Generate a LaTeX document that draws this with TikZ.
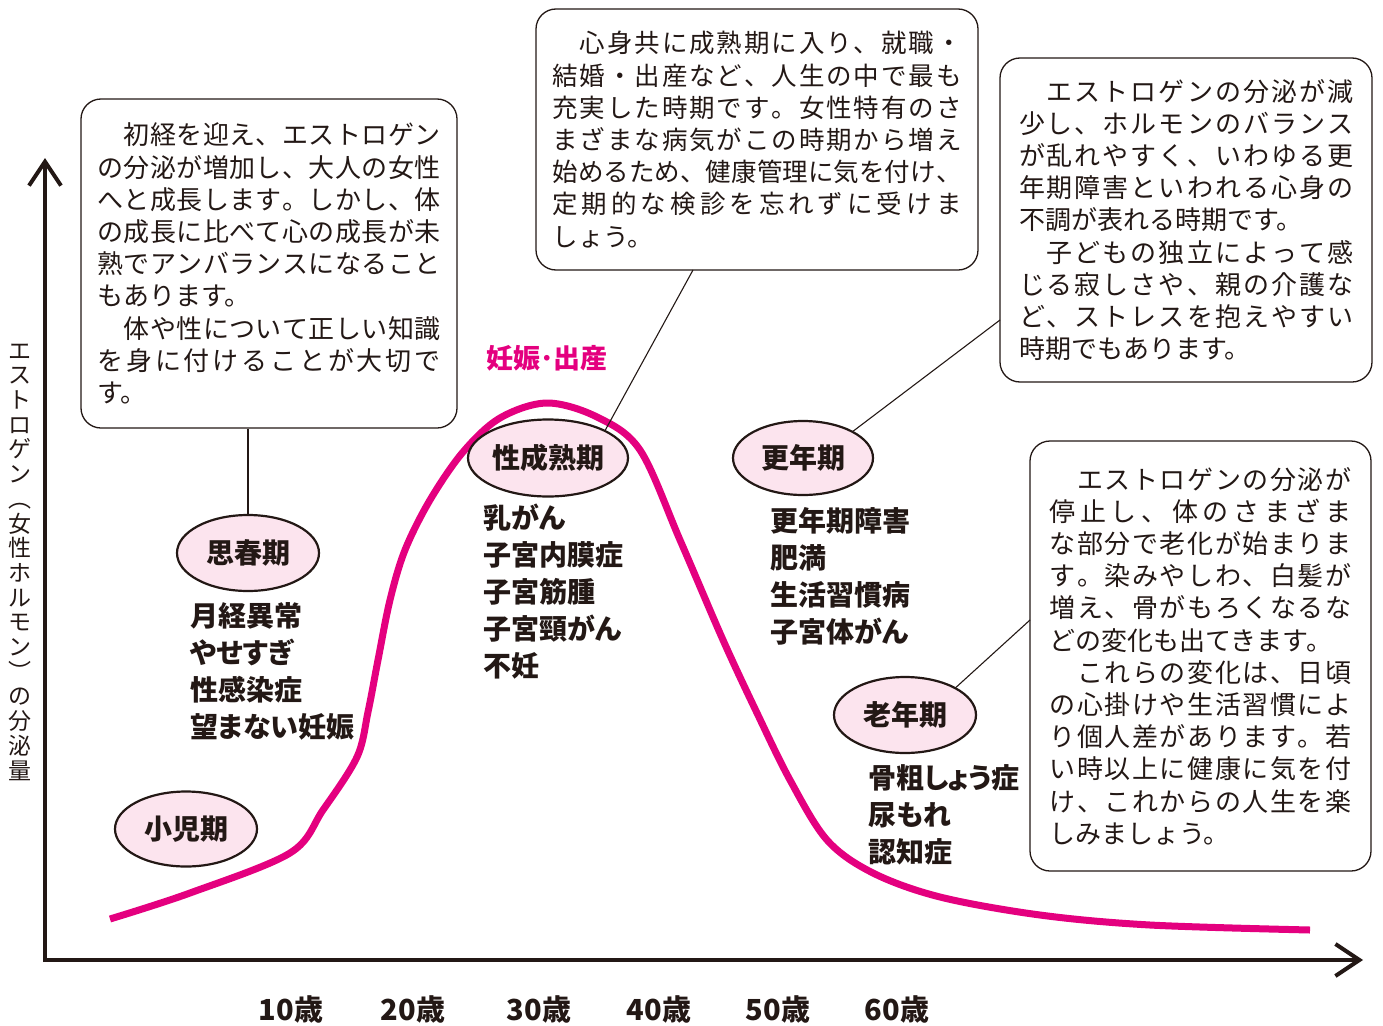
\documentclass[tikz,border=0pt]{standalone}
\usepackage{fontspec}
\setmainfont{Noto Sans CJK JP}
\newfontfamily\lblfont[RawFeature=+palt]{Noto Sans CJK JP}
\usetikzlibrary{shapes.geometric,arrows.meta}
\definecolor{ink}{HTML}{231815}
\definecolor{mag}{HTML}{E4007F}
\definecolor{pinkfill}{HTML}{FCE4EE}
\ExplSyntaxOn
\NewDocumentCommand\jl{mm}{\makebox[#1pt][s]{\tl_map_inline:nn{#2}{##1\hfil}\unskip}}
\ExplSyntaxOff
\begin{document}
\begin{tikzpicture}[x=1pt,y=-1pt,
  infobox/.style={draw=ink, line width=1.3pt, rounded corners=20pt, fill=white, text=ink, align=left, inner sep=0pt, font=\fontsize{26}{32.2}\selectfont},
  stage/.style={ellipse, draw=ink, line width=2.2pt, fill=pinkfill, inner sep=0pt, text=ink, font=\lblfont\fontsize{28}{28}\bfseries\selectfont},
  illlist/.style={anchor=north west, inner sep=0pt, align=left, text=ink, font=\lblfont\fontsize{28}{37}\bfseries\selectfont},
  agelbl/.style={text=ink, inner sep=0pt, font=\lblfont\fontsize{29}{29}\bfseries\selectfont},
  link/.style={draw=ink, line width=1.1pt},
  curve/.style={draw=mag, line width=7pt},
  axis/.style={draw=ink, line width=4pt}]
\useasboundingbox (0,0) rectangle (1383,1025);

% info boxes
\node[infobox, minimum width=376pt, minimum height=329pt] (box1) at (269,263.5) {%
\jl{343}{　初経を迎え、エストロゲン}\\
\jl{343}{の分泌が増加し、大人の女性}\\
\jl{343}{へと成長します。しかし、体}\\
\jl{343}{の成長に比べて心の成長が未}\\
\jl{343}{熟でアンバランスになること}\\
もあります。\\
\jl{343}{　体や性について正しい知識}\\
\jl{343}{を身に付けることが大切で}\\
す。};

\node[infobox, font=\fontsize{25.5}{32.2}\selectfont, minimum width=442pt, minimum height=261pt] (box2) at (757,139.5) {%
\jl{409}{　心身共に成熟期に入り、就職・}\\
\jl{409}{結婚・出産など、人生の中で最も}\\
\jl{409}{充実した時期です。女性特有のさ}\\
\jl{409}{まざまな病気がこの時期から増え}\\
\jl{409}{始めるため、健康管理に気を付け、}\\
\jl{409}{定期的な検診を忘れずに受けま}\\
しょう。};

\node[infobox, minimum width=372pt, minimum height=324pt] (box3) at (1186,220) {%
\jl{334}{　エストロゲンの分泌が減}\\
\jl{334}{少し、ホルモンのバランス}\\
\jl{334}{が乱れやすく、いわゆる更}\\
\jl{334}{年期障害といわれる心身の}\\
不調が表れる時期です。\\
\jl{334}{　子どもの独立によって感}\\
\jl{334}{じる寂しさや、親の介護な}\\
\jl{334}{ど、ストレスを抱えやすい}\\
時期でもあります。};

\node[infobox, minimum width=341pt, minimum height=430pt] (box4) at (1200.5,656) {%
\jl{302}{　エストロゲンの分泌が}\\
\jl{302}{停止し、体のさまざま}\\
\jl{302}{な部分で老化が始まりま}\\
\jl{302}{す。染みやしわ、白髪が}\\
\jl{302}{増え、骨がもろくなるな}\\
どの変化も出てきます。\\
\jl{302}{　これらの変化は、日頃}\\
\jl{302}{の心掛けや生活習慣によ}\\
\jl{302}{り個人差があります。若}\\
\jl{302}{い時以上に健康に気を付}\\
\jl{302}{け、これからの人生を楽}\\
しみましょう。};

% axes
\coordinate (origin) at (45,960);
\coordinate (ytip) at (45,158);
\coordinate (xtip) at (1363,960);
\draw[axis, -{Straight Barb[length=24pt,width=32pt]}] (45,962) -- (ytip);
\draw[axis, -{Straight Barb[length=24pt,width=32pt]}] (43,960) -- (xtip);

% estrogen curve
\draw[curve] plot[smooth, tension=0.55] coordinates {(110,919) (190,893) (290,853) (323,810) (357,757) (368,712) (378,660) (390,600) (405,550) (430,500) (463,452) (500,418) (547,403) (597,417) (640,450) (680,540) (723,640) (757,713) (790,780) (827,840) (873,873) (940,897) (1040,915) (1150,925) (1310,930)};

% stage ellipses
\node[stage, minimum width=142pt, minimum height=76pt] (shishunki) at (248,553) {思春期};
\node[stage, minimum width=142pt, minimum height=75pt] (shoni) at (186,829) {小児期};
\node[stage, minimum width=160pt, minimum height=77pt] (seijuku) at (548,458) {性成熟期};
\node[stage, minimum width=140pt, minimum height=74pt] (konenki) at (803,458) {更年期};
\node[stage, minimum width=142pt, minimum height=76pt] (ronenki) at (905,715) {老年期};

% connectors
\coordinate (c2) at (693,270);
\coordinate (c3) at (1000,320);
\coordinate (c4) at (1030,620);
\draw[link, line width=2pt] (shishunki.north |- box1.south) -- (shishunki.north);
\draw[link] (c2) -- (seijuku.north east);
\draw[link] (c3) -- (konenki.north east);
\draw[link] (c4) -- (ronenki.north east);

% pregnancy label
\node[text=mag, inner sep=0pt, font=\lblfont\fontsize{27}{27}\bfseries\selectfont] (ninshin) at (547,358) {妊娠･出産};

% disease lists
\node[illlist] (list1) at (190,602) {月経異常\\やせすぎ\\性感染症\\望まない妊娠};
\node[illlist] (list2) at (483,504) {乳がん\\子宮内膜症\\子宮筋腫\\子宮頸がん\\不妊};
\node[illlist] (list3) at (770,507) {更年期障害\\肥満\\生活習慣病\\子宮体がん};
\node[illlist] (list4) at (868,764) {骨粗しょう症\\尿もれ\\認知症};

% age labels
\node[agelbl] (a10) at (291,1009) {10歳};
\node[agelbl] (a20) at (413,1009) {20歳};
\node[agelbl] (a30) at (539,1009) {30歳};
\node[agelbl] (a40) at (659,1009) {40歳};
\node[agelbl] (a50) at (778,1009) {50歳};
\node[agelbl] (a60) at (897,1009) {60歳};

% y-axis label (vertical)
\node[text=ink, align=center, inner sep=0pt, font=\fontsize{23}{24.7}\selectfont] (ylab) at (20,562) {エ\\ス\\ト\\ロ\\ゲ\\ン\\︵\\女\\性\\ホ\\ル\\モ\\ン\\︶\\の\\分\\泌\\量};
\end{tikzpicture}
\end{document}
